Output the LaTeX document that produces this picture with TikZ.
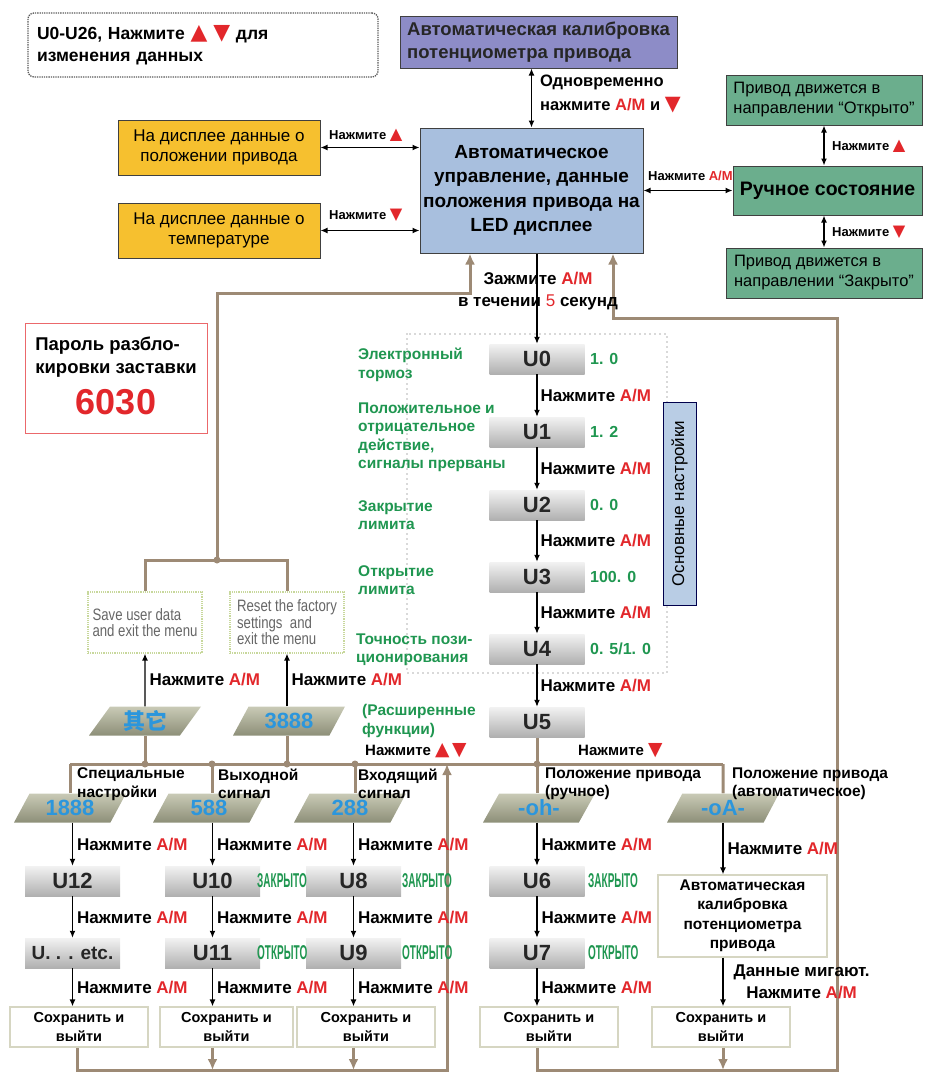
\documentclass[tikz,border=0pt]{standalone}
\usepackage{fontspec}
\setmainfont{Liberation Sans}
\newfontfamily\cjkfont{Noto Sans CJK SC}
\newfontfamily\symfont{DejaVu Sans}
\newfontfamily\narrowfont[FakeStretch=0.8]{Liberation Sans}
\newfontfamily\condfont[FakeStretch=0.5]{Liberation Sans}
\usepackage{xcolor}
\usepackage{graphicx}
\usepackage{tikz}
\usetikzlibrary{positioning,calc,shapes.geometric,arrows.meta,backgrounds}

\definecolor{amred}{HTML}{E2272B}
\definecolor{calibfill}{HTML}{8D8CC7}
\definecolor{autofill}{HTML}{A8BFDE}
\definecolor{yfill}{HTML}{F6C02F}
\definecolor{gfill}{HTML}{6BAE8D}
\definecolor{brn}{HTML}{9D8A75}
\definecolor{lblgreen}{HTML}{1F9650}
\definecolor{pblue}{HTML}{2C96DC}
\definecolor{savebrd}{HTML}{D6D6C2}
\definecolor{menubrd}{HTML}{C8D89C}
\definecolor{mainsetfill}{HTML}{B9CDE5}
\definecolor{paratop}{HTML}{C9CAB6}
\definecolor{parabot}{HTML}{8D8F78}

\newcommand{\amkey}{\textcolor{amred}{A/M}}
\newcommand{\pressam}{Нажмите \amkey}
\newcommand{\triup}{\textcolor{amred}{\scalebox{1.25}{\symfont ▲}}}
\newcommand{\tridn}{\textcolor{amred}{\scalebox{1.25}{\symfont ▼}}}

\tikzset{
	box/.style={draw=black!75, line width=1pt, align=center, inner sep=2pt},
	ubox/.style={top color=gray!10, bottom color=gray!62, minimum width=95pt, minimum height=30pt, inner sep=0pt, text=black!85, font=\fontsize{22}{24}\selectfont\bfseries},
	para/.style={trapezium, trapezium left angle=45, trapezium right angle=135, trapezium stretches body, minimum width=112pt, minimum height=29pt, inner sep=0pt, top color=paratop, bottom color=parabot, text=pblue, font=\fontsize{22}{24}\selectfont\bfseries},
	savebox/.style={draw=savebrd, line width=1.3pt, fill=white, align=center, minimum width=138pt, minimum height=40pt, inner sep=1pt, font=\fontsize{14.5}{19}\selectfont\bfseries},
	menubox/.style={draw=menubrd, densely dotted, line width=1.2pt, align=left, minimum width=114pt, minimum height=61pt, inner sep=3pt, text=gray!80!black, font=\narrowfont\fontsize{16.5}{16.5}\selectfont},
	lbl/.style={inner sep=0pt, font=\fontsize{17}{22}\selectfont\bfseries},
	slbl/.style={inner sep=0pt, anchor=west, font=\fontsize{13}{15}\selectfont\bfseries},
	blbl/.style={inner sep=0pt, anchor=west, align=left, font=\fontsize{15.5}{18.5}\selectfont\bfseries},
	glbl/.style={blbl, text=lblgreen},
	val/.style={inner sep=0pt, anchor=west, text=lblgreen, font=\fontsize{16}{18}\selectfont\bfseries},
	stat/.style={inner sep=0pt, anchor=west, text=lblgreen, font=\condfont\fontsize{20}{20}\selectfont\bfseries},
	arr/.style={line width=1.3pt, -{Latex[length=7pt,width=6pt]}},
	dbl/.style={line width=1.3pt, {Latex[length=7pt,width=6pt]}-{Latex[length=7pt,width=6pt]}},
	brline/.style={brn, line width=3pt},
	brarr/.style={brline, -{Latex[length=11pt,width=10pt]}},
}

\begin{document}
\begin{tikzpicture}[x=1pt,y=-1pt]
	\useasboundingbox (0,0) rectangle (943,1074);
	\draw[gray!60, line width=1.8pt, dash pattern=on 0pt off 5pt, line cap=round] (407,334) rectangle (667,673);

	\node[draw=gray!70!black, line width=1.3pt, densely dotted, rounded corners=6pt, minimum width=350pt, minimum height=64pt, text width=332pt, align=left, inner sep=0pt, font=\fontsize{17.5}{22}\selectfont\bfseries] (hint) at (203,45) {U0-U26, Нажмите \triup\ \tridn{} для\\изменения данных};

	\node[box, fill=calibfill, minimum width=277pt, minimum height=52pt, align=left, text=black!85, font=\fontsize{18.5}{23}\selectfont\bfseries] (calib) at (538.5,42) {Автоматическая калибровка\\потенциометра привода};
	\node[box, fill=autofill, minimum width=223pt, minimum height=125pt, font=\fontsize{19}{24.3}\selectfont\bfseries] (auto) at (531.5,190.5) {Автоматическое\\управление, данные\\положения привода на\\LED дисплее};
	\node[box, fill=yfill, minimum width=202pt, minimum height=55pt, font=\fontsize{17}{20}\selectfont] (ypos) at (219,147.5) {На дисплее данные о\\положении привода};
	\node[box, fill=yfill, minimum width=202pt, minimum height=55pt, font=\fontsize{17}{20}\selectfont] (ytemp) at (219,230.5) {На дисплее данные о\\температуре};
	\node[box, fill=gfill, minimum width=196pt, minimum height=50pt, align=left, font=\fontsize{16.5}{20}\selectfont] (gopen) at (824,100) {Привод движется в\\направлении “Открыто”};
	\node[box, fill=gfill, minimum width=189pt, minimum height=49pt, font=\fontsize{19.5}{22}\selectfont\bfseries] (manual) at (827.5,190.5) {Ручное состояние};
	\node[box, fill=gfill, minimum width=196pt, minimum height=50pt, align=left, font=\fontsize{16.5}{20}\selectfont] (gclose) at (824,273) {Привод движется в\\направлении “Закрыто”};

	\draw[dbl] (calib.south -| auto.north) -- (auto.north);
	\node[lbl, anchor=west, align=left, font=\fontsize{16.5}{24}\selectfont\bfseries] (simul) at (540,94) {Одновременно\\нажмите \amkey{} и \tridn};
	\draw[dbl] (ypos.east) -- (ypos.east -| auto.west);
	\node[slbl] (kup) at (329,135) {Нажмите \triup};
	\draw[dbl] (ytemp.east) -- (ytemp.east -| auto.west);
	\node[slbl] (kdn) at (329,215) {Нажмите \tridn};
	\draw[dbl] (auto.east) -- (manual.west);
	\node[slbl] (kam) at (648,176) {\pressam};
	\draw[dbl] (gopen.south) -- (gopen.south |- manual.north);
	\node[slbl] (kopen) at (832,146) {Нажмите \triup};
	\draw[dbl] (gclose.north |- manual.south) -- (gclose.north);
	\node[slbl] (kclose) at (832,232) {Нажмите \tridn};

	\node[ubox] (u0) at (537,359) {U0};
	\node[ubox] (u1) at (537,432) {U1};
	\node[ubox] (u2) at (537,505) {U2};
	\node[ubox] (u3) at (537,577) {U3};
	\node[ubox] (u4) at (537,649) {U4};
	\node[ubox] (u5) at (537,722) {U5};
	\draw[arr] (u0.north |- auto.south) -- (u0.north);
	\node[lbl, align=center] (hold) at (538,291) {Зажмите \amkey\\в течении {\mdseries\textcolor{amred}{5}} секунд};
	\draw[arr] (u0) -- node[lbl, right=3pt] (p01) {\pressam} (u1);
	\draw[arr] (u1) -- node[lbl, right=3pt] (p12) {\pressam} (u2);
	\draw[arr] (u2) -- node[lbl, right=3pt] (p23) {\pressam} (u3);
	\draw[arr] (u3) -- node[lbl, right=3pt] (p34) {\pressam} (u4);
	\draw[arr] (u4) -- node[lbl, right=3pt] (p45) {\pressam} (u5);

	\node[val] (v0) at (590,359) {1. 0};
	\node[val] (v1) at (590,432) {1. 2};
	\node[val] (v2) at (590,505) {0. 0};
	\node[val] (v3) at (590,577) {100. 0};
	\node[val] (v4) at (590,649) {0. 5/1. 0};
	\node[glbl] (g0) at (358,365) {Электронный\\тормоз};
	\node[glbl] (g1) at (358,437.5) {Положительное и\\отрицательное\\действие,\\сигналы прерваны};
	\node[glbl] (g2) at (358,515) {Закрытие\\лимита};
	\node[glbl] (g3) at (358,580) {Открытие\\лимита};
	\node[glbl] (g4) at (356,650) {Точность пози-\\ционирования};
	\node[draw=black!70!blue, line width=1pt, fill=mainsetfill, rotate=90, minimum width=203pt, minimum height=33pt, inner sep=0pt, font=\fontsize{17}{20}\selectfont] (mainset) at (679.5,503.5) {Основные настройки};

	\node[draw=amred!70, line width=1pt, minimum width=182pt, minimum height=110pt, inner sep=0pt, font=\fontsize{18.5}{23}\selectfont\bfseries] (pw) at (116,378) {\begin{tabular}{@{}l@{}}Пароль разбло-\\кировки заставки\\[9pt]\multicolumn{1}{@{}c@{}}{\fontsize{36}{38}\selectfont\textcolor{amred}{6030}}\end{tabular}};

	\coordinate (lj) at (217,560);
	\node[menubox] (usave) at (145,622.5) {Save user data\\and exit the menu};
	\node[menubox] (ureset) at (287,622.5) {Reset the factory\\settings\ \ and\\exit the menu};
	\node[para] (qita) at (145,721) {\cjkfont 其它};
	\node[para] (p3888) at (289,721) {3888};
	\draw[arr] (qita.north) -- node[lbl, right=4pt] (pq) {\pressam} (usave.south);
	\draw[arr] (ureset.south |- p3888.north) -- node[lbl, right=4pt] (pr) {\pressam} (ureset.south);

	\node[glbl] (ext) at (362,721) {(Расширенные\\функции)};
	\node[slbl, font=\fontsize{15}{17}\selectfont\bfseries] (pud) at (365,751) {Нажмите \triup\,\tridn};
	\node[slbl, font=\fontsize{15}{17}\selectfont\bfseries] (pdn) at (578,751) {Нажмите \tridn};

	\coordinate (bl) at (70,764);
	\coordinate (b588) at (212,764);
	\coordinate (b288) at (355,764);
	\coordinate (br) at (723,764);
	\node[para] (p1888) at (70,808) {1888};
	\node[para] (p588) at (209,808) {588};
	\node[para] (p288) at (350,808) {288};
	\node[para] (poh) at (539,808) {-oh-};
	\node[para] (poa) at (723,808) {-oA-};
	\node[blbl] (t1) at (77,784) {Специальные\\настройки};
	\node[blbl] (t2) at (218,784) {Выходной\\сигнал};
	\node[blbl] (t3) at (358,784) {Входящий\\сигнал};
	\node[blbl] (t4) at (545,784) {Положение привода\\(ручное)};
	\node[blbl] (t5) at (732,784) {Положение привода\\(автоматическое)};

	\node[ubox] (u12) at (72.5,881) {U12};
	\node[ubox] (u10) at (212.5,881) {U10};
	\node[ubox] (u8) at (353.5,881) {U8};
	\node[ubox] (u6) at (537,881) {U6};
	\node[ubox, font=\fontsize{19}{21}\selectfont\bfseries] (uetc) at (72.5,953) {U. . . etc.};
	\node[ubox] (u11) at (212.5,953) {U11};
	\node[ubox] (u9) at (353.5,953) {U9};
	\node[ubox] (u7) at (537,953) {U7};
	\node[stat] (s10) at (257,881) {ЗАКРЫТО};
	\node[stat] (s8) at (402,881) {ЗАКРЫТО};
	\node[stat] (s6) at (588,881) {ЗАКРЫТО};
	\node[stat] (s11) at (257,953) {ОТКРЫТО};
	\node[stat] (s9) at (402,953) {ОТКРЫТО};
	\node[stat] (s7) at (588,953) {ОТКРЫТО};

	\node[savebox] (sv1) at (79,1027) {Сохранить и\\выйти};
	\node[savebox, minimum width=133pt] (sv2) at (226.5,1027) {Сохранить и\\выйти};
	\node[savebox] (sv3) at (366,1027) {Сохранить и\\выйти};
	\node[savebox] (sv4) at (549,1027) {Сохранить и\\выйти};
	\node[savebox] (sv5) at (721,1027) {Сохранить и\\выйти};
	\node[savebox, minimum width=169pt, minimum height=82pt, font=\fontsize{15.5}{19.5}\selectfont\bfseries] (autocal) at (742.5,916) {Автоматическая\\калибровка\\потенциометра\\привода};

	\draw[arr] (u12 |- p1888.south) -- node[lbl, right=4pt] (a12) {\pressam} (u12.north);
	\draw[arr] (u10 |- p588.south) -- node[lbl, right=4pt] (a10) {\pressam} (u10.north);
	\draw[arr] (u8 |- p288.south) -- node[lbl, right=4pt] (a8) {\pressam} (u8.north);
	\draw[arr] (u6 |- poh.south) -- node[lbl, right=4pt] (a6) {\pressam} (u6.north);
	\draw[arr] (poa.south) -- node[lbl, right=4pt] (aa) {\pressam} (poa.south |- autocal.north);
	\draw[arr] (u12) -- node[lbl, right=4pt] (b12) {\pressam} (uetc);
	\draw[arr] (u10) -- node[lbl, right=4pt] (b10) {\pressam} (u11);
	\draw[arr] (u8) -- node[lbl, right=4pt] (b8) {\pressam} (u9);
	\draw[arr] (u6) -- node[lbl, right=4pt] (b6) {\pressam} (u7);
	\draw[arr] (uetc.south) -- node[lbl, right=4pt] (c12) {\pressam} (uetc.south |- sv1.north);
	\draw[arr] (u11.south) -- node[lbl, right=4pt] (c10) {\pressam} (u11.south |- sv2.north);
	\draw[arr] (u9.south) -- node[lbl, right=4pt] (c8) {\pressam} (u9.south |- sv3.north);
	\draw[arr] (u7.south) -- node[lbl, right=4pt] (c6) {\pressam} (u7.south |- sv4.north);
	\draw[arr] (poa.south |- autocal.south) -- node[lbl, align=center, right=10pt] (blink) {Данные мигают.\\\pressam} (poa.south |- sv5.north);

	\begin{scope}[on background layer]
		\draw[brarr] (lj) -- (217,293) -- (470,293) -- (470,293 |- auto.south);
		\draw[brline] (usave.north) -- (usave.north |- lj) -- (ureset.north |- lj) -- (ureset.north);
		\draw[brline] (qita.south) -- (qita.south |- bl);
		\draw[brline] (ureset.south |- p3888.south) -- (ureset.south |- bl);
		\draw[brline] (bl) -- (br);
		\draw[brline] (u5.south) -- (u5.south |- poh.north);
		\draw[brline] (bl) -- (bl |- p1888.north);
		\draw[brline] (b588) -- (b588 |- p588.north);
		\draw[brline] (b288) -- (b288 |- p288.north);
		\draw[brline] (br) -- (poa.north);
		\coordinate (busl) at (77,1070);
		\coordinate (busm) at (447,1070);
		\coordinate (busr) at (837,1070);
		\draw[brarr] (busl |- sv1.south) -- (busl) -- (busm) -- (busm |- bl);
		\draw[brarr] (u11 |- sv2.south) -- (u11 |- busl);
		\draw[brarr] (u9 |- sv3.south) -- (u9 |- busl);
		\draw[brarr] (u7 |- sv4.south) -- (u7 |- busl) -- (busr) -- (837,318) -- (613,318) -- (613,318 |- auto.south);
		\draw[brarr] (poa.south |- sv5.south) -- (poa.south |- busl);
	\end{scope}
	\fill[brn] (lj) circle (3.5pt);
	\fill[brn] (qita.south |- bl) circle (3.5pt);
	\fill[brn] (ureset.south |- bl) circle (3.5pt);
	\fill[brn] (b588) circle (3.5pt);
	\fill[brn] (b288) circle (3.5pt);
	\fill[brn] (u5.south |- bl) circle (3.5pt);
\end{tikzpicture}
\end{document}
